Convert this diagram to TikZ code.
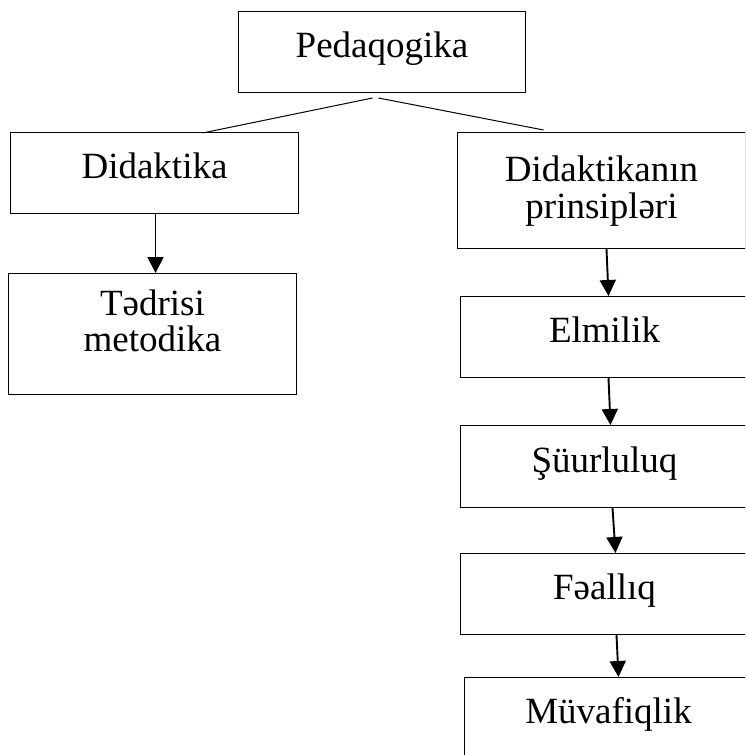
\documentclass[tikz,border=0pt]{standalone}
\usepackage{fontspec}
\setmainfont{Liberation Serif}
\usetikzlibrary{arrows.meta,calc}
\begin{document}
\begin{tikzpicture}[x=1pt,y=-1pt,
  box/.style={draw, line width=1pt, rectangle, inner sep=0pt, minimum width=288pt,
    minimum height=81pt, align=center, anchor=north west,
    text height=26pt, text depth=15pt,
    font=\fontsize{37}{36.5}\selectfont},
  link/.style={line width=1pt},
  arr/.style={line width=1.9pt, -{Triangle[length=16pt,width=16pt]}}]
\useasboundingbox (0,0) rectangle (745,755);
\clip (0,0) rectangle (745,755);
\fill[white] (0,0) rectangle (745,755);
% boxes
\node[box, minimum width=287pt] (ped) at (238,11) {Pedaqogika};
\node[box] (did) at (10,132) {Didaktika};
\node[box, minimum height=121pt, text height=63pt, text depth=28pt] (ted) at (8,273) {Tədrisi\\metodika};
\node[box, minimum height=116pt, text height=63pt, text depth=8pt] (prin) at (457,132) {Didaktikanın\\prinsipləri};
\node[box] (elm) at (460,296) {Elmilik};
\node[box, minimum height=82pt] (sur) at (460,425) {Şüurluluq};
\node[box] (fea) at (460,553) {Fəallıq};
\node[box] (muv) at (464,677) {Müvafiqlik};
% links from Pedaqogika
\draw[link] ($(ped.south)+(-9.5,5)$) -- ($(did.north)+(48,1)$);
\draw[link] ($(ped.south)+(-3.5,5)$) -- ($(prin.north)+(-58,-2)$);
% arrows
\draw[arr] ([xshift=1pt]did.south) -- ([xshift=3pt]ted.north);
\draw[arr] ([xshift=5pt]prin.south) -- ([xshift=4pt]elm.north);
\draw[arr] ([xshift=4pt]elm.south) -- ([xshift=6pt]sur.north);
\draw[arr] ([xshift=8pt]sur.south) -- ([xshift=11pt]fea.north);
\draw[arr] ([xshift=12pt]fea.south) -- ([xshift=10pt]muv.north);
\end{tikzpicture}
\end{document}
